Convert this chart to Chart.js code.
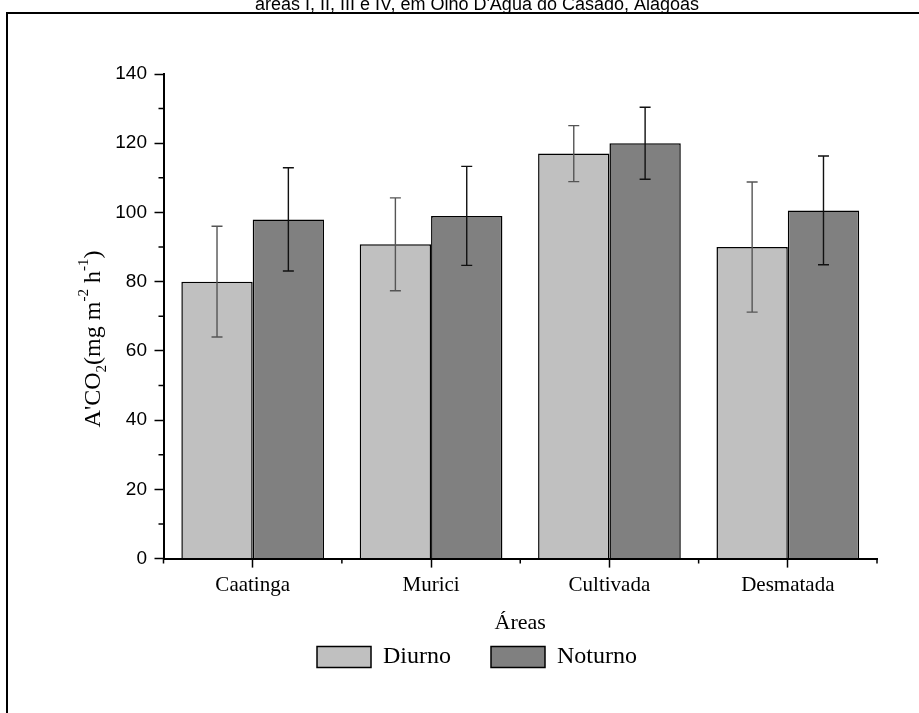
<!DOCTYPE html>
<html>
<head>
<meta charset="utf-8">
<script src="https://cdn.jsdelivr.net/npm/chart.js@4.4.1/dist/chart.umd.min.js"></script>
<style>
  html, body { margin: 0; padding: 0; background: #fff; }
  #wrap { position: relative; width: 919px; height: 713px; overflow: hidden; }
  #chart { position: absolute; left: 0; top: -20px; }
  #frame { position: absolute; left: 6px; top: 12px; width: 1000px; height: 800px;
           border-left: 2px solid #000; border-top: 2px solid #000; pointer-events: none; }
</style>
</head>
<body>
<div id="wrap">
  <canvas id="chart" width="919" height="733"></canvas>
  <div id="frame"></div>
</div>
<script>
// dados
const categories = ['Caatinga', 'Murici', 'Cultivada', 'Desmatada'];
const seriesNames = ['Diurno', 'Noturno'];
const diurno = [80, 90.8, 117, 90];
const diurnoErr = [16, 13.4, 8.1, 18.8];
const noturno = [98, 99, 120, 100.6];
const noturnoErr = [14.9, 14.3, 10.4, 15.7];
const yMin = 0, yMax = 140, yStep = 20;

const serif = "'Liberation Serif', 'Times New Roman', serif";
const sans = "'Liberation Sans', Arial, sans-serif";

// barras de erro (média ± desvio)
const errorBars = {
    id: 'errorBars',
    afterDatasetsDraw(chart) {
        const ctx = chart.ctx;
        const y = chart.scales.y;
        chart.data.datasets.forEach((ds, i) => {
            const meta = chart.getDatasetMeta(i);
            ctx.save();
            ctx.strokeStyle = ds.errorColor;
            ctx.lineWidth = 1.4;
            meta.data.forEach((bar, j) => {
                const top = y.getPixelForValue(ds.data[j] + ds.errors[j]);
                const bot = y.getPixelForValue(ds.data[j] - ds.errors[j]);
                const cx = bar.x, w = 5.5;
                ctx.beginPath();
                ctx.moveTo(cx, top); ctx.lineTo(cx, bot);
                ctx.moveTo(cx - w, top); ctx.lineTo(cx + w, top);
                ctx.moveTo(cx - w, bot); ctx.lineTo(cx + w, bot);
                ctx.stroke();
            });
            ctx.restore();
        });
    }
};

// traços secundários nos eixos
const minorTicks = {
    id: 'minorTicks',
    afterDraw(chart) {
        const { ctx, scales: { x, y } } = chart;
        ctx.save();
        ctx.strokeStyle = '#000';
        ctx.lineWidth = 1.5;
        ctx.beginPath();
        for (let v = yMin + yStep / 2; v < yMax; v += yStep) {
            const py = y.getPixelForValue(v);
            ctx.moveTo(x.left - 5, py); ctx.lineTo(x.left, py);
        }
        for (let i = 0; i <= categories.length; i++) {
            const px = x.getPixelForValue(i - 0.5);
            ctx.moveTo(px, y.bottom); ctx.lineTo(px, y.bottom + 5);
        }
        ctx.stroke();
        ctx.restore();
    }
};

// título do eixo Y com subscrito e sobrescritos
const yTitle = {
    id: 'yTitle',
    afterDraw(chart) {
        const ctx = chart.ctx;
        const size = 24;
        const parts = [
            { t: "A'CO", s: 0 }, { t: '2', s: -1 }, { t: '(mg m', s: 0 },
            { t: '-2', s: 1 }, { t: ' h', s: 0 }, { t: '-1', s: 1 }, { t: ')', s: 0 }
        ];
        const fontOf = (p) => (p.s === 0 ? size : Math.round(size * 0.62)) + 'px ' + serif;
        let total = 0;
        parts.forEach((p) => { ctx.font = fontOf(p); total += ctx.measureText(p.t).width; });
        ctx.save();
        ctx.translate(100, 359);
        ctx.rotate(-Math.PI / 2);
        ctx.fillStyle = '#000';
        ctx.textBaseline = 'alphabetic';
        let px = -total / 2;
        parts.forEach((p) => {
            ctx.font = fontOf(p);
            const dy = p.s === -1 ? size * 0.25 : (p.s === 1 ? -size * 0.5 : 0);
            ctx.fillText(p.t, px, dy);
            px += ctx.measureText(p.t).width;
        });
        ctx.restore();
    }
};

const ctx = document.getElementById('chart').getContext('2d');
const chart = new Chart(ctx, {
    type: 'bar',
    data: {
        labels: categories,
        datasets: [
            {
                label: seriesNames[0],
                data: diurno,
                errors: diurnoErr,
                errorColor: '#555555',
                backgroundColor: '#c0c0c0',
                borderColor: '#000',
                borderWidth: 1.5,
            },
            {
                label: seriesNames[1],
                data: noturno,
                errors: noturnoErr,
                errorColor: '#111111',
                backgroundColor: '#808080',
                borderColor: '#000',
                borderWidth: 1.5,
            },
        ],
    },
    options: {
        responsive: false,
        animation: false,
        devicePixelRatio: 1,
        layout: { padding: { left: 77, right: 42, top: 0, bottom: 34 } },
        datasets: { bar: { categoryPercentage: 0.8, barPercentage: 1.0 } },
        plugins: {
            title: {
                display: true,
                text: "áreas I, II, III e IV, em Olho D'Água do Casado, Alagoas",
                color: '#000',
                font: { family: sans, size: 18, weight: 'normal' },
                padding: { top: 14.2, bottom: 58.2 },
            },
            legend: {
                position: 'bottom',
                labels: {
                    color: '#000',
                    font: { family: serif, size: 24 },
                    boxWidth: 54,
                    boxHeight: 21,
                    padding: 40,
                },
            },
            tooltip: { enabled: false },
        },
        scales: {
            x: {
                grid: { drawOnChartArea: false, offset: false, tickLength: 9, tickColor: '#000', tickWidth: 1.5 },
                border: { color: '#000', width: 2 },
                ticks: { color: '#000', font: { family: serif, size: 21 }, padding: 5.5 },
                title: { display: true, text: 'Áreas', color: '#000', font: { family: serif, size: 22 }, padding: { top: 6, bottom: -31.2 } },
            },
            y: {
                min: yMin,
                max: yMax,
                afterFit(scale) { scale.width = 163.5 - 77; },
                grid: { drawOnChartArea: false, tickLength: 9, tickColor: '#000', tickWidth: 1.5 },
                border: { color: '#000', width: 2 },
                ticks: { stepSize: yStep, color: '#000', font: { family: sans, size: 19 }, padding: 7.5 },
            },
        },
    },
    plugins: [errorBars, minorTicks, yTitle],
});
</script>
</body>
</html>
